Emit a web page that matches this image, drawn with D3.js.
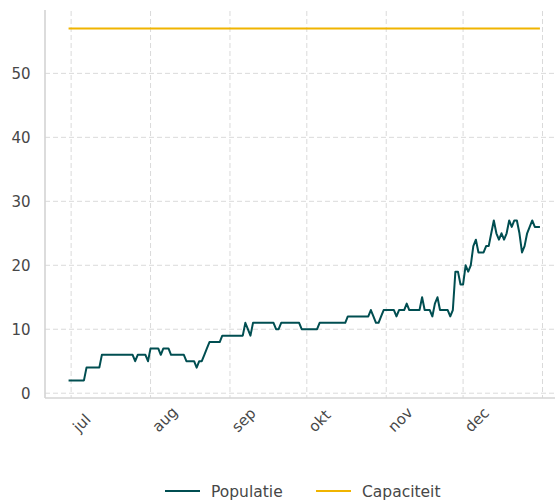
<!DOCTYPE html>
<html>
<head>
<meta charset="utf-8">
<script src="https://cdn.jsdelivr.net/npm/d3@7"></script>
<style>
  html, body { margin: 0; padding: 0; background: #fff; }
  svg { display: block; font-family: "DejaVu Sans", sans-serif; }
</style>
</head>
<body>
<svg id="chart" width="555" height="500"></svg>
<script>
// ---- data ----
const startDate = "2023-06-30";           // first daily observation
const populatie = [                        // one value per day, 30 Jun – 31 Dec
  2, 2, 2, 2, 2, 2, 2,
  4, 4, 4, 4, 4, 4, 6,
  6, 6, 6, 6, 6, 6, 6,
  6, 6, 6, 6, 6, 5, 6,
  6, 6, 6, 5, 7, 7, 7,
  7, 6, 7, 7, 7, 6, 6,
  6, 6, 6, 6, 5, 5, 5,
  5, 4, 5, 5, 6, 7, 8,
  8, 8, 8, 8, 9, 9, 9,
  9, 9, 9, 9, 9, 9, 11,
  10, 9, 11, 11, 11, 11, 11,
  11, 11, 11, 11, 10, 10, 11,
  11, 11, 11, 11, 11, 11, 11,
  10, 10, 10, 10, 10, 10, 10,
  11, 11, 11, 11, 11, 11, 11,
  11, 11, 11, 11, 12, 12, 12,
  12, 12, 12, 12, 12, 12, 13,
  12, 11, 11, 12, 13, 13, 13,
  13, 13, 12, 13, 13, 13, 14,
  13, 13, 13, 13, 13, 15, 13,
  13, 13, 12, 14, 15, 13, 13,
  13, 13, 12, 13, 19, 19, 17,
  17, 20, 19, 20, 23, 24, 22,
  22, 22, 23, 23, 25, 27, 25,
  24, 25, 24, 25, 27, 26, 27,
  27, 25, 22, 23, 25, 26, 27,
  26, 26, 26
];
const capaciteitDates = ["2023-06-30", "2023-12-31"];
const capaciteit = [57, 57];
const monthTicks = ["2023-07-01", "2023-08-01", "2023-09-01", "2023-10-01", "2023-11-01", "2023-12-01", "2024-01-01"];
const monthLabels = ["jul", "aug", "sep", "okt", "nov", "dec", ""];
const yTicks = [0, 10, 20, 30, 40, 50];
const seriesNames = ["Populatie", "Capaciteit"];

// ---- build ----
const parse = d3.utcParse("%Y-%m-%d");
const t0 = parse(startDate);
const popData = populatie.map((v, i) => ({ date: d3.utcDay.offset(t0, i), value: v }));
const capData = capaciteit.map((v, i) => ({ date: parse(capaciteitDates[i]), value: v }));

const colors = { pop: "#004e51", cap: "#f0b400" };
const textColor = "#474747";
const svg = d3.select("#chart");
const padLeft = 45, padBottom = 398, padTop = 11;

const allDates = popData.map(d => d.date).concat(capData.map(d => d.date));
const xExt = d3.extent(allDates);
const xPad = (xExt[1] - xExt[0]) * 0.05;
const x = d3.scaleUtc()
  .domain([new Date(+xExt[0] - xPad), new Date(+xExt[1] + xPad)])
  .range([padLeft, 563.5]);

const allVals = populatie.concat(capaciteit);
const yMin = d3.min(allVals), yMax = d3.max(allVals);
const yPad = (yMax - yMin) * 0.05;
const y = d3.scaleLinear()
  .domain([yMin - yPad, yMax + yPad])
  .range([padBottom, padTop]);

// grid
const gridColor = "#dadada";
const tickDates = monthTicks.map(parse);
svg.append("g").selectAll("line").data(tickDates).join("line")
  .attr("x1", d => x(d)).attr("x2", d => x(d))
  .attr("y1", padTop).attr("y2", padBottom)
  .attr("stroke", gridColor).attr("stroke-width", 1)
  .attr("stroke-dasharray", "5,3");
svg.append("g").selectAll("line").data(yTicks).join("line")
  .attr("x1", padLeft).attr("x2", 555)
  .attr("y1", d => y(d)).attr("y2", d => y(d))
  .attr("stroke", gridColor).attr("stroke-width", 1)
  .attr("stroke-dasharray", "5,3");

// spines
svg.append("line").attr("x1", padLeft).attr("x2", padLeft).attr("y1", padTop - 1).attr("y2", padBottom)
  .attr("stroke", "#d4d4d4").attr("stroke-width", 1.6);
svg.append("line").attr("x1", padLeft).attr("x2", 555).attr("y1", padBottom).attr("y2", padBottom)
  .attr("stroke", "#d4d4d4").attr("stroke-width", 1.6);

// y labels
svg.append("g").selectAll("text").data(yTicks).join("text")
  .attr("x", 30.5).attr("y", d => y(d)).attr("dy", "0.36em")
  .attr("text-anchor", "end").attr("font-size", 15).attr("fill", textColor)
  .text(d => d3.format("d")(d));

// x labels
svg.append("g").selectAll("text").data(tickDates).join("text")
  .attr("transform", d => `translate(${x(d) + 8},${padBottom + 35}) rotate(-45)`)
  .attr("text-anchor", "start").attr("font-size", 15).attr("fill", textColor)
  .text((d, i) => monthLabels[i]);

// lines
const line = d3.line().x(d => x(d.date)).y(d => y(d.value));
svg.append("path").datum(capData).attr("d", line)
  .attr("fill", "none").attr("stroke", colors.cap).attr("stroke-width", 2);
svg.append("path").datum(popData).attr("d", line)
  .attr("fill", "none").attr("stroke", colors.pop).attr("stroke-width", 2)
  .attr("stroke-linejoin", "round");

// legend
const legend = [
  { name: seriesNames[0], color: colors.pop, x: 165 },
  { name: seriesNames[1], color: colors.cap, x: 316 }
];
const lg = svg.append("g").selectAll("g").data(legend).join("g")
  .attr("transform", d => `translate(${d.x},491)`);
lg.append("line").attr("x1", 0).attr("x2", 35).attr("y1", 0).attr("y2", 0)
  .attr("stroke", d => d.color).attr("stroke-width", 2);
lg.append("text").attr("x", 46).attr("y", 0).attr("dy", "0.36em")
  .attr("font-size", 15.5).attr("fill", textColor).text(d => d.name);
</script>
</body>
</html>
